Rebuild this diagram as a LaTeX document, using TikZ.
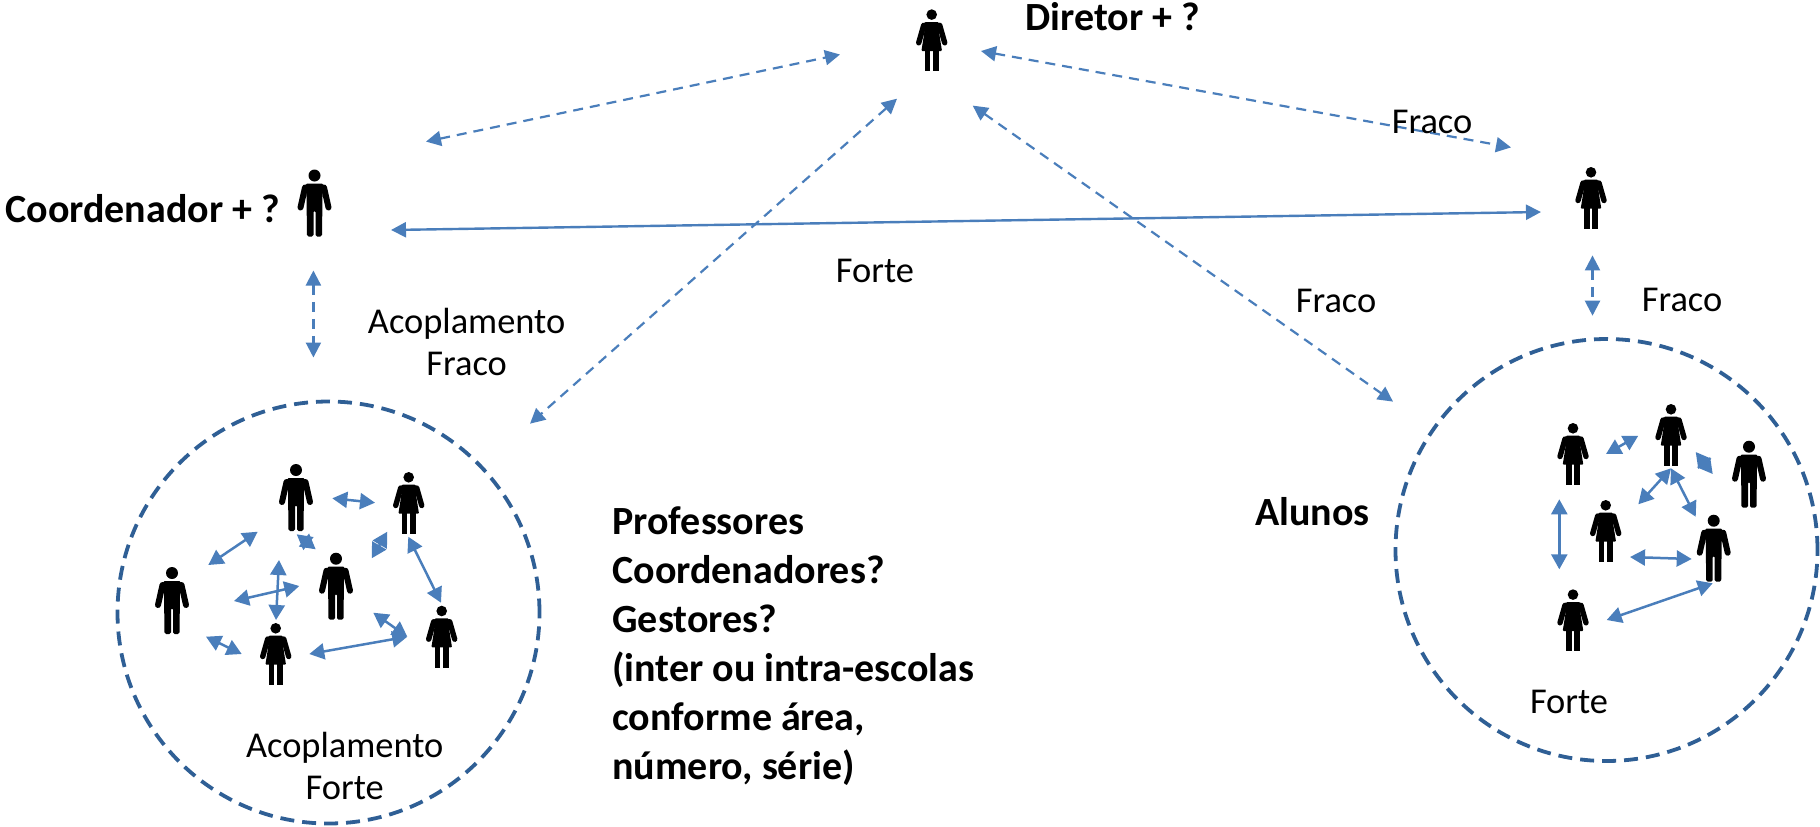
\documentclass[tikz,border=0pt]{standalone}
\usepackage{fontspec}
\setmainfont{Carlito}
\usetikzlibrary{arrows.meta}
\definecolor{arrowblue}{HTML}{4A7EBB}
\definecolor{ringblue}{HTML}{2F5F95}
\tikzset{
  x=0.5pt,y=-0.5pt,
  link/.style={draw=arrowblue,line width=1.25pt,{Triangle[length=7.5pt,width=8pt]}-{Triangle[length=7.5pt,width=8pt]}},
  longlink/.style={draw=arrowblue,line width=1.2pt,{Triangle[length=7.5pt,width=7.5pt]}-{Triangle[length=7.5pt,width=7.5pt]}},
  dashlink/.style={draw=arrowblue,line width=1.1pt,dash pattern=on 5pt off 3.5pt,{Triangle[length=7.5pt,width=7.5pt]}-{Triangle[length=7.5pt,width=7.5pt]}},
  ring/.style={draw=ringblue,line width=1.9pt,dash pattern=on 7pt off 4pt},
  label/.style={font=\fontsize{18.2}{21}\selectfont,inner sep=0pt,align=center},
  blabel/.style={font=\fontsize{20}{24.5}\selectfont\bfseries,inner sep=0pt,align=left},
  man/.pic={
    \fill (0,6) circle (6);
    \fill[rounded corners=0.8pt] (-9,14)--(9,14)--(8,26)--(7.5,67)--(1,67)--(1,41)--(-1,41)--(-1,67)--(-7.5,67)--(-8,26)--cycle;
    \draw[line width=3pt,line cap=round,line join=round] (-9.5,18)--(-14,38);
    \draw[line width=3pt,line cap=round,line join=round] (9.5,18)--(14,38);
  },
  woman/.pic={
    \fill (0,5.3) circle (5.3);
    \fill[rounded corners=0.5pt] (-7,12.7)--(7,12.7)--(7.5,24)--(10.3,41.7)--(-10.3,41.7)--(-7.5,24)--cycle;
    \fill (-7,41)--(-1.3,41)--(-1.3,62)--(-7,62)--cycle;
    \fill (7,41)--(1.3,41)--(1.3,62)--(7,62)--cycle;
    \draw[line width=2.7pt,line cap=round,line join=round] (-8,16)--(-13,33.5);
    \draw[line width=2.7pt,line cap=round,line join=round] (8,16)--(13,33.5);
  }
}
\newcommand{\lnk}[4]{%
  \coordinate (#1a) at (#3);
  \coordinate (#1b) at (#4);
  \path[#2] (#1a) -- (#1b);
}
\begin{document}
\begin{tikzpicture}
\useasboundingbox (0,0) rectangle (1820,826);
% rings
\node[ring,circle,minimum size=211pt,inner sep=0pt] (ringL) at (328.5,612.5) {};
\node[ring,circle,minimum size=211pt,inner sep=0pt] (ringR) at (1606.5,550) {};
% people
\pic (dir) at (931.7,9.3) {woman};
\pic (coord) at (314.5,169.5) {man};
\pic (rw) at (1591,167) {woman};
\pic (m1) at (296,464) {man};
\pic (w1) at (408.7,472) {woman};
\pic (m2) at (336,552.7) {man};
\pic (m3) at (172,567) {man};
\pic (w2) at (275.7,623) {woman};
\pic (w3) at (441.7,605.7) {woman};
\pic (wa) at (1573,423) {woman};
\pic (wb) at (1671,404) {woman};
\pic (ma) at (1749,440.7) {man};
\pic (wc) at (1605.7,500) {woman};
\pic (mb) at (1713.7,514.7) {man};
\pic (wd) at (1573,589.3) {woman};
% long connectors
\lnk{d1}{dashlink}{426,141.6}{840,54.5}
\lnk{d2}{dashlink}{981,51}{1511,147.4}
\lnk{d3}{dashlink}{897,98.7}{530,423.7}
\lnk{d4}{dashlink}{972.7,105.6}{1393,401.6}
\lnk{d5}{dashlink}{313.4,270.5}{313.4,357.5}
\lnk{d6}{dashlink}{1592.5,255.4}{1592.5,315.7}
\lnk{s1}{longlink}{391,230}{1541,212}
% left cluster
\lnk{a}{link}{332.3,498.3}{375,502.7}
\lnk{b}{link}{208.3,565}{257.7,531.7}
\lnk{c}{link}{296.7,534.3}{315.7,549.3}
\lnk{e}{link}{387.3,531.7}{371.7,558.3}
\lnk{f}{link}{408.3,536.7}{441,602.7}
\lnk{g}{link}{279,560}{276,620}
\lnk{h}{link}{234,601}{299.3,586}
\lnk{i}{link}{373.3,612.7}{407.3,636.7}
\lnk{j}{link}{309.3,654}{407.3,636.7}
\lnk{k}{link}{206,636.7}{241.7,654}
% right cluster
\lnk{l}{link}{1606,454}{1638.3,435.7}
\lnk{m}{link}{1695.7,452}{1712.7,474}
\lnk{n}{link}{1638.3,504.3}{1671,468.3}
\lnk{o}{link}{1671,468.3}{1695.7,516.7}
\lnk{p}{link}{1559.3,499.3}{1559.3,569.3}
\lnk{q}{link}{1630,557}{1691.7,559}
\lnk{r}{link}{1606.7,620}{1712.7,583.3}
% labels
\node[blabel,anchor=west] (tdir) at (1025,17) {Diretor + ?};
\node[blabel,anchor=west] (tcoord) at (5,209) {Coordenador + ?};
\node[blabel,anchor=west] (talu) at (1255,512) {Alunos};
\node[blabel,anchor=west] (tprof) at (612,646) {Professores\\Coordenadores?\\Gestores?\\(inter ou intra-escolas\\conforme área,\\número, série)};
\node[label] (f1) at (1432,122) {Fraco};
\node[label] (f2) at (875,271) {Forte};
\node[label] (f3) at (1336,300.6) {Fraco};
\node[label] (f4) at (1682,300) {Fraco};
\node[label] (f5) at (466.6,342) {Acoplamento\\Fraco};
\node[label] (f6) at (344.7,766) {Acoplamento\\Forte};
\node[label] (f7) at (1569,702) {Forte};
\end{tikzpicture}
\end{document}
